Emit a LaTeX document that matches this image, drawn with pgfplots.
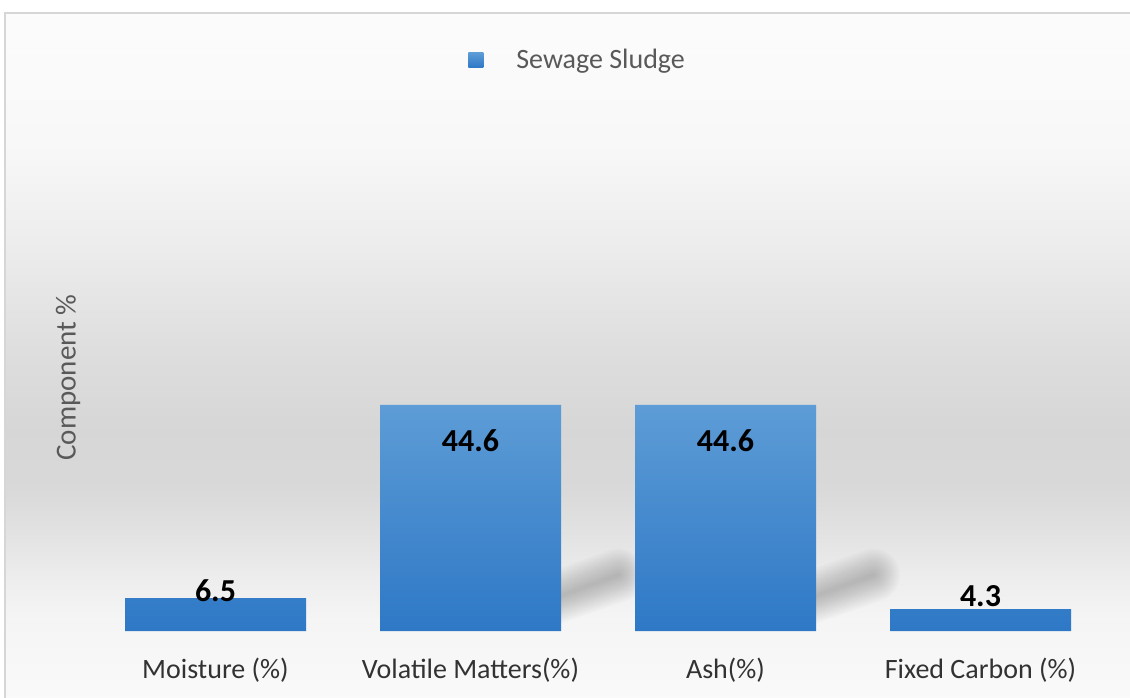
\documentclass[border=0pt]{standalone}
\usepackage{pgfplots}
\pgfplotsset{compat=1.18}
\usepackage{fontspec}
\setmainfont{Carlito}

\definecolor{barTop}{RGB}{93,156,214}
\definecolor{barBot}{RGB}{46,120,198}
\definecolor{labelGray}{RGB}{89,89,89}
\definecolor{tickGray}{RGB}{50,50,50}
\definecolor{frameGray}{RGB}{214,214,214}

% chart-area background: near white at top and foot, grey band behind the bars
\pgfdeclareverticalshading{chartbg}{100bp}{%
  color(0bp)=(white!98!black); color(25bp)=(white!98!black);
  color(31bp)=(white!96!black); color(34bp)=(white!93!black);
  color(37bp)=(white!89!black); color(40.5bp)=(white!85!black);
  color(44.7bp)=(white!84!black); color(50.5bp)=(white!87!black);
  color(57.8bp)=(white!92.5!black); color(65bp)=(white!97!black);
  color(69.4bp)=(white!98!black); color(75bp)=(white!98.5!black);
  color(100bp)=(white!98.5!black)}

% one soft shadow streak: many faint round-capped strokes of falling width
\newcommand{\barshadow}[1]{%
  \pgfplotsinvokeforeach{1,...,12}{%
    \draw[black, line cap=round, opacity=0.018, line width=##1*2.2pt]
      (axis cs:#1+0.30,6) -- (axis cs:#1+0.58,11);
  }%
}

\begin{document}
\begin{tikzpicture}
\useasboundingbox (0pt,0pt) rectangle (565pt,-348.5pt);
\begin{scope}[x=0.5pt,y=-0.5pt]
  \shade[shading=chartbg] (5,13) rectangle (1135,702);
  \draw[frameGray, line width=1pt] (5,13) rectangle (1135,702);
\end{scope}

\begin{axis}[
  at={(44pt,-315.5pt)}, anchor=south west,
  scale only axis, width=510pt, height=253.5pt,
  xmin=-0.5, xmax=3.5, ymin=0, ymax=100,
  clip=false,
  axis line style={draw=none},
  ytick=\empty,
  xtick={0,1,2,3},
  xticklabels={Moisture (\%),Volatile Matters(\%),Ash(\%),Fixed Carbon (\%)},
  xtick style={draw=none},
  xticklabel style={anchor=base, yshift=-23.5pt,
    font=\fontsize{14}{17}\selectfont, text=tickGray},
  ylabel={Component \%},
  every axis y label/.style={at={(axis description cs:-0.0196,0.5)},
    rotate=90, anchor=center, font=\fontsize{14.5}{17}\selectfont, text=labelGray},
  legend style={at={(axis description cs:0.481,1.126)}, anchor=center,
    draw=none, fill=none, font=\fontsize{14}{17}\selectfont, text=labelGray},
  legend image code/.code={%
    \shade[top color=barTop, bottom color=barBot] (0pt,-3.75pt) rectangle (7.5pt,3.75pt);
    \path (22pt,0pt);},
]
  % soft perspective shadows cast to the right of the two tall bars
  \barshadow{1}
  \barshadow{2}

  \addplot[ybar, bar width=90.5pt, bar shift=0pt, draw=none,
    top color=barTop, bottom color=barBot,
    visualization depends on={ifthenelse(y<5,6.5,ifthenelse(y<10,3.5,-18)) \as \lblshift},
    nodes near coords={\pgfmathprintnumber[assume math mode=true]{\pgfplotspointmeta}},
    every node near coord/.append style={anchor=center, yshift=\lblshift pt,
      font=\bfseries\fontsize{16}{19}\selectfont, text=black},
  ] coordinates {(0,6.5) (1,44.6) (2,44.6) (3,4.3)};
  \addlegendentry{Sewage Sludge}
\end{axis}
\end{tikzpicture}
\end{document}
